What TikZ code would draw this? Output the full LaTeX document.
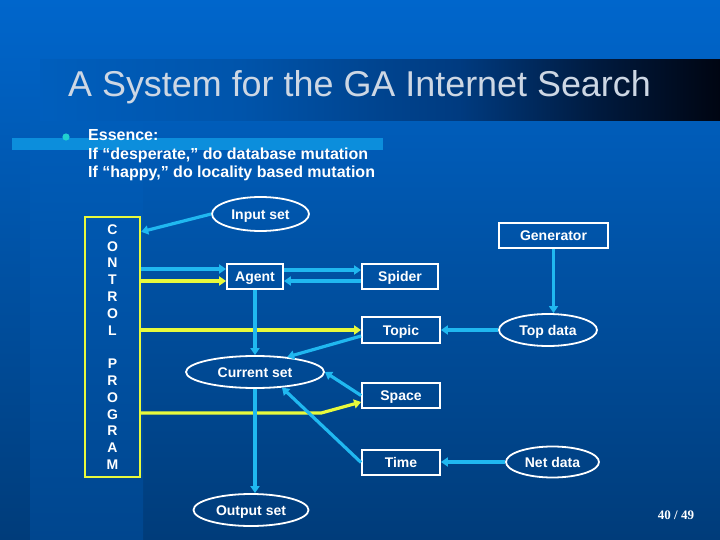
\documentclass[tikz,border=0pt]{standalone}
\usepackage{fontspec}
\setmainfont{Liberation Sans}
\newfontfamily\numfont{Liberation Serif}
\usetikzlibrary{shapes.geometric,arrows.meta}

\definecolor{bgtop}{RGB}{0,102,204}
\definecolor{bgbot}{RGB}{0,60,122}
\definecolor{stripmid}{RGB}{0,93,186}
\definecolor{stripbot}{RGB}{0,70,142}
\definecolor{arrcyan}{RGB}{32,184,240}
\definecolor{arryel}{RGB}{232,250,60}
\definecolor{titlegrey}{RGB}{205,215,228}
\definecolor{barblue}{RGB}{12,142,220}
\definecolor{dotcyan}{RGB}{32,208,208}

\pgfdeclarehorizontalshading{titlebar}{100bp}{rgb(0bp)=(0,0.37,0.74); rgb(25bp)=(0,0.37,0.74); rgb(39.7bp)=(0,0.33,0.67); rgb(55.9bp)=(0,0.23,0.50); rgb(66.2bp)=(0,0.10,0.24); rgb(75bp)=(0,0.02,0.07); rgb(100bp)=(0,0.02,0.07)}

\tikzset{
  box/.style={draw=white, line width=1.8pt, rectangle, inner sep=0pt, text=white,
    text height=10pt, text depth=0pt, font=\fontsize{14}{16.8}\selectfont\bfseries},
  oval/.style={box, ellipse},
  ctrlbox/.style={draw=arryel, line width=2.4pt, rectangle, inner sep=0pt, text=white,
    align=center, font=\fontsize{14}{16.8}\selectfont\bfseries},
  cyanarr/.style={draw=arrcyan, line width=3.2pt, -{Triangle[length=7pt,width=9pt]}},
  yelarr/.style={cyanarr, draw=arryel},
  slidetext/.style={anchor=base west, inner sep=0pt, text=white,
    font=\fontsize{16}{18.5}\selectfont\bfseries},
}

\begin{document}
\begin{tikzpicture}[x=1pt, y=-1pt]
    \useasboundingbox (0,0) rectangle (720,540);

    % slide background
    \shade[top color=bgtop, bottom color=bgbot] (0,0) rectangle (720,540);
    \shade[top color=stripmid, bottom color=stripbot] (30,120) rectangle (143,540);
    \shade[shading=titlebar] (40,60) rectangle (720,121);
    \fill[barblue] (12,138) rectangle (383,150);

    \node[anchor=base west, inner sep=0pt, text=titlegrey, font=\fontsize{35.9}{43}\selectfont] (title) at (68,97) {A System for the GA Internet Search};

    \fill[dotcyan] (66,137) circle (3.6);
    \node[slidetext] (essence) at (88,141) {Essence:};
    \node[slidetext] (desperate) at (88,159.5) {If “desperate,” do database mutation};
    \node[slidetext] (happy) at (88,178) {If “happy,” do locality based mutation};

    % diagram
    \node[ctrlbox, minimum width=55pt, minimum height=260pt] (control) at (112.5,347) {C\\O\\N\\T\\R\\O\\L\\~\\P\\R\\O\\G\\R\\A\\M};

    \node[oval, minimum width=97pt, minimum height=34pt] (inputset) at (260.5,214) {Input set};
    \node[box, minimum width=56pt, minimum height=25pt] (agent) at (255,276.5) {Agent};
    \node[box, minimum width=76pt, minimum height=25pt] (spider) at (400,276.5) {Spider};
    \node[box, minimum width=78pt, minimum height=26pt] (topic) at (401,330) {Topic};
    \node[box, minimum width=109pt, minimum height=25pt] (generator) at (553.5,235.5) {Generator};
    \node[oval, minimum width=98pt, minimum height=32pt] (topdata) at (548,330) {Top data};
    \node[oval, minimum width=138pt, minimum height=32pt] (currentset) at (255,372) {Current set};
    \node[box, minimum width=78pt, minimum height=25pt] (space) at (401,395.5) {Space};
    \node[box, minimum width=78pt, minimum height=25pt] (time) at (401,462.5) {Time};
    \node[oval, minimum width=93pt, minimum height=31pt] (netdata) at (552.5,462) {Net data};
    \node[oval, minimum width=115pt, minimum height=32pt] (outputset) at (251,510) {Output set};

    \draw[cyanarr] (inputset.west) -- ([yshift=-16pt]control.north east);
    \draw[cyanarr] ([yshift=7.5pt]agent.west -| control.east) -- ([yshift=7.5pt]agent.west);
    \draw[yelarr] ([yshift=-4.5pt]agent.west -| control.east) -- ([yshift=-4.5pt]agent.west);
    \draw[cyanarr] ([yshift=6.5pt]agent.east) -- ([yshift=6.5pt]spider.west);
    \draw[cyanarr] ([yshift=-4.5pt]spider.west) -- ([yshift=-4.5pt]agent.east);
    \draw[yelarr] (topic.west -| control.east) -- (topic.west);
    \draw[cyanarr] (generator.south) -- (generator.south |- topdata.north);
    \draw[cyanarr] (topdata.west) -- (topdata.west -| topic.east);
    \draw[cyanarr] (agent.south) -- (agent.south |- currentset.north);
    \draw[cyanarr] ([yshift=-6pt]topic.west) -- (currentset.25);
    \draw[cyanarr] (space.west) -- (currentset.east);
    \draw[yelarr] ([yshift=-17.5pt]space.west -| control.east) -- ++(180,0) -- ([yshift=-6.5pt]space.west);
    \draw[cyanarr] (time.west) -- (currentset.-30);
    \draw[cyanarr] (netdata.west) -- (netdata.west -| time.east);
    \draw[cyanarr] (currentset.south) -- (currentset.south |- outputset.north);

    \node[text=white, font=\numfont\fontsize{13}{15}\selectfont\bfseries] (pagenum) at (676,515) {40 / 49};
\end{tikzpicture}
\end{document}
